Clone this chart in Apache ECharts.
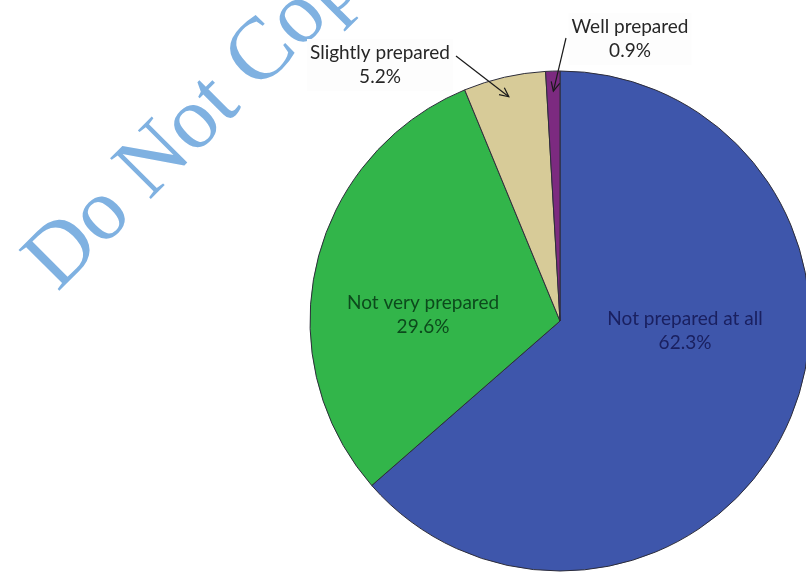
<!DOCTYPE html>
<html>
<head>
<meta charset="utf-8">
<script src="https://cdn.jsdelivr.net/npm/echarts@6/dist/echarts.min.js"></script>
<style>
  html, body { margin: 0; padding: 0; background: #ffffff; }
  #chart { width: 806px; height: 573px; }
</style>
</head>
<body>
<div id="chart"></div>
<script>
// Preparedness survey: share of respondents per answer
const categories = ['Not prepared at all', 'Not very prepared', 'Slightly prepared', 'Well prepared'];
const percentValues = [62.3, 29.6, 5.2, 0.9];
const sliceColors = ['#3E56AB', '#32B54A', '#D7CB98', '#7C2A80'];

const CENTER = [560, 321];
const RADIUS = 250;
const FONT = 'Lato, "Open Sans", sans-serif';

// Label anchor points (label box centre) for each answer
const labelSpots = [
  { x: 685, y: 331, color: '#1A2060' },
  { x: 423, y: 315, color: '#0C4A1C' },
  { x: 380, y: 65, color: '#262626', lineFrom: [456, 56], boxed: true },
  { x: 630, y: 39, color: '#262626', lineFrom: [566, 38], boxed: true }
];

const chart = echarts.init(document.getElementById('chart'), null, { renderer: 'canvas' });

const data = categories.map((name, i) => ({
  name,
  value: percentValues[i],
  itemStyle: { color: sliceColors[i] },
  label: Object.assign(
    { color: labelSpots[i].color },
    labelSpots[i].boxed ? { backgroundColor: '#fdfdfd', padding: [2, 3] } : {}
  )
}));

// Arrow tips sit inside the small slices, along each slice's mid-angle
const total = percentValues.reduce((a, b) => a + b, 0);
function midAngle(idx) {
  let acc = 0;
  for (let i = 0; i < idx; i++) acc += percentValues[i];
  return (acc + percentValues[idx] / 2) / total * Math.PI * 2; // clockwise from top
}
function arrowGraphics() {
  const out = [];
  [2, 3].forEach(idx => {
    const a = midAngle(idx);
    const r = RADIUS * 0.92;
    const tip = [CENTER[0] + r * Math.sin(a), CENTER[1] - r * Math.cos(a)];
    const from = labelSpots[idx].lineFrom;
    const dx = tip[0] - from[0], dy = tip[1] - from[1];
    const len = Math.hypot(dx, dy);
    const ux = dx / len, uy = dy / len;
    const head = 10, spread = 0.45;
    const cs = Math.cos(spread), sn = Math.sin(spread);
    const l = [tip[0] - head * (ux * cs - uy * sn), tip[1] - head * (uy * cs + ux * sn)];
    const rgt = [tip[0] - head * (ux * cs + uy * sn), tip[1] - head * (uy * cs - ux * sn)];
    out.push({
      type: 'line', z: 10,
      shape: { x1: from[0], y1: from[1], x2: tip[0], y2: tip[1] },
      style: { stroke: '#1a1a1a', lineWidth: 1.2 }
    });
    out.push({
      type: 'polyline', z: 10,
      shape: { points: [l, tip, rgt] },
      style: { stroke: '#1a1a1a', lineWidth: 1.2, fill: null }
    });
  });
  return out;
}

const option = {
  backgroundColor: '#ffffff',
  animation: false,
  series: [{
    type: 'pie',
    z: 3,
    center: CENTER,
    radius: RADIUS,
    startAngle: 90,
    clockwise: true,
    data,
    itemStyle: { borderColor: '#2d2d3a', borderWidth: 1 },
    label: {
      show: true,
      position: 'inside',
      formatter: p => p.name + '\n' + p.value.toFixed(1) + '%',
      fontFamily: FONT,
      fontSize: 19,
      lineHeight: 24,
      align: 'center'
    },
    labelLine: { show: false },
    labelLayout: params => {
      const s = labelSpots[params.dataIndex];
      return { x: s.x, y: s.y, align: 'center', verticalAlign: 'middle' };
    },
    emphasis: { disabled: true }
  }],
  graphic: [
    {
      type: 'text',
      z: 0,
      x: 10, y: 245,
      rotation: Math.PI / 4,
      style: {
        text: 'Do Not Copy',
        fill: '#7FB1E1',
        font: '88px "Liberation Serif", "DejaVu Serif", serif'
      }
    }
  ].concat(arrowGraphics())
};

chart.setOption(option);
</script>
</body>
</html>
